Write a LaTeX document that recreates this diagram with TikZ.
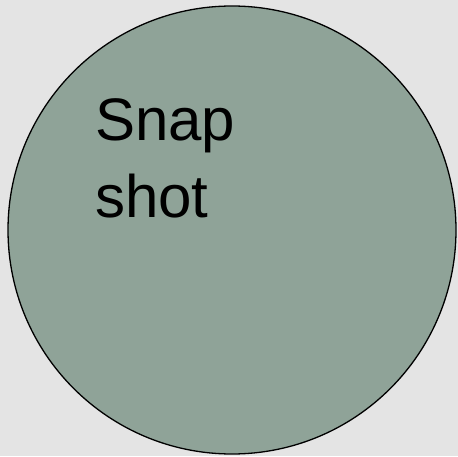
\documentclass[tikz,border=0pt]{standalone}
\usepackage{fontspec}
\setmainfont{Liberation Sans}
\definecolor{bgc}{RGB}{228,228,228}
\definecolor{discfill}{RGB}{143,163,152}
\tikzset{
  disc/.style={circle, draw=black, line width=1.3pt, fill=discfill, minimum size=448pt, inner sep=0pt},
  label text/.style={inner sep=0pt, align=left, font=\fontsize{60}{78}\selectfont, text=black}
}
\begin{document}
\begin{tikzpicture}[x=1pt,y=1pt]
\fill[bgc] (0,0) rectangle (458,456);
\useasboundingbox (0,0) rectangle (458,456);
\node[disc] (c) at (232,226) {};
\node[label text, anchor=base west] (t) at (95,238) {Snap\\shot};
\end{tikzpicture}
\end{document}
